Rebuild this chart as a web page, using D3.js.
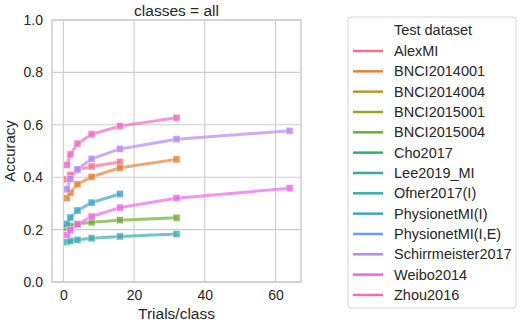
<!DOCTYPE html>
<html lang="en">
  <head>
    <meta charset="UTF-8" />
    <title>Accuracy vs trials per class</title>
    <script src="https://d3js.org/d3.v7.min.js"></script>
    <style>
      body {
        margin: 0;
        background: #fff;
      }
      svg text {
        font-family: Arial, "Liberation Sans", sans-serif;
        fill: #262626;
      }
    </style>
  </head>
  <body>
    <svg id="chart" width="524" height="327"></svg>
    <script>
      // legend order / hue order
      const datasets = [
        "AlexMI", "BNCI2014001", "BNCI2014004", "BNCI2015001", "BNCI2015004",
        "Cho2017", "Lee2019_MI", "Ofner2017(I)", "PhysionetMI(I)",
        "PhysionetMI(I,E)", "Schirrmeister2017", "Weibo2014", "Zhou2016",
      ];
      const palette = [
        "#f77189", "#e58335", "#c0952f", "#a09f31", "#6fab31", "#33b070",
        "#35ae93", "#37abb2", "#3aa5c8", "#6a9df2", "#b689f4", "#ec66ec",
        "#f569c1",
      ];
      const trials = [1, 2, 4, 8, 16, 32, 64];

      // mean accuracy per trials/class (only datasets drawn in this panel)
      const alexMI = [0.392, 0.409, 0.428, 0.441, 0.458];
      const bnci2014001 = [0.320, 0.341, 0.373, 0.401, 0.436, 0.468];
      const bnci2015004 = [0.208, 0.214, 0.221, 0.228, 0.236, 0.245];
      const ofner2017 = [0.152, 0.157, 0.161, 0.167, 0.174, 0.183];
      const physionetI = [0.222, 0.246, 0.273, 0.303, 0.336];
      const schirrmeister2017 = [0.354, 0.393, 0.430, 0.470, 0.508, 0.545, 0.577];
      const weibo2014 = [0.180, 0.198, 0.220, 0.250, 0.284, 0.320, 0.358];
      const zhou2016 = [0.447, 0.487, 0.528, 0.564, 0.595, 0.627];

      const seriesValues = {
        AlexMI: alexMI,
        BNCI2014001: bnci2014001,
        BNCI2015004: bnci2015004,
        "Ofner2017(I)": ofner2017,
        "PhysionetMI(I)": physionetI,
        Schirrmeister2017: schirrmeister2017,
        Weibo2014: weibo2014,
        Zhou2016: zhou2016,
      };

      const svg = d3.select("#chart");
      const plot = { left: 52, right: 301, top: 20, bottom: 282 };

      const x = d3.scaleLinear().domain([-3.2, 67.2]).range([plot.left, plot.right]);
      const y = d3.scaleLinear().domain([0, 1]).range([plot.bottom, plot.top]);
      const color = d3.scaleOrdinal().domain(datasets).range(palette);

      // grid
      const grid = svg.append("g");
      grid.selectAll("line.gx")
        .data([0, 20, 40, 60])
        .join("line")
        .attr("x1", (d) => x(d)).attr("x2", (d) => x(d))
        .attr("y1", plot.top).attr("y2", plot.bottom)
        .attr("stroke", "#cccccc").attr("stroke-width", 1.1);
      grid.selectAll("line.gy")
        .data([0, 0.2, 0.4, 0.6, 0.8, 1.0])
        .join("line")
        .attr("x1", plot.left).attr("x2", plot.right)
        .attr("y1", (d) => y(d)).attr("y2", (d) => y(d))
        .attr("stroke", "#cccccc").attr("stroke-width", 1.1);

      // spines
      svg.append("rect")
        .attr("x", plot.left).attr("y", plot.top)
        .attr("width", plot.right - plot.left)
        .attr("height", plot.bottom - plot.top)
        .attr("fill", "none")
        .attr("stroke", "#cccccc").attr("stroke-width", 1.5);

      // axes (labels only, seaborn whitegrid has no tick marks)
      const xAxis = svg.append("g")
        .attr("transform", `translate(0,${plot.bottom + 3})`)
        .call(d3.axisBottom(x).tickValues([0, 20, 40, 60]).tickSize(0).tickPadding(5));
      const yAxis = svg.append("g")
        .attr("transform", `translate(${plot.left - 3},0)`)
        .call(d3.axisLeft(y).tickValues([0, 0.2, 0.4, 0.6, 0.8, 1.0])
          .tickFormat(d3.format(".1f")).tickSize(0).tickPadding(6));
      [xAxis, yAxis].forEach((a) => {
        a.select(".domain").remove();
        a.selectAll("text").style("font-size", "14px").attr("fill", "#262626");
      });

      const line = d3.line().x((d) => x(d.t)).y((d) => y(d.v));

      const series = datasets
        .filter((name) => seriesValues[name])
        .map((name) => ({
          name,
          points: seriesValues[name].map((v, i) => ({ t: trials[i], v })),
        }));

      const marks = svg.append("g");
      series.forEach((s) => {
        marks.append("path")
          .datum(s.points)
          .attr("d", line)
          .attr("fill", "none")
          .attr("stroke", color(s.name))
          .attr("stroke-width", 3)
          .attr("stroke-opacity", 0.7)
          .attr("stroke-linejoin", "round");
        marks.selectAll(null)
          .data(s.points)
          .join("rect")
          .attr("x", (d) => x(d.t) - 3.5)
          .attr("y", (d) => y(d.v) - 3.5)
          .attr("width", 7).attr("height", 7)
          .attr("fill", color(s.name))
          .attr("fill-opacity", 0.8)
          .attr("stroke", "#fff").attr("stroke-opacity", 0.5)
          .attr("stroke-width", 0.8);
      });

      // titles
      svg.append("text")
        .attr("x", (plot.left + plot.right) / 2).attr("y", 16)
        .attr("text-anchor", "middle").style("font-size", "15.5px")
        .text("classes = all");
      svg.append("text")
        .attr("x", (plot.left + plot.right) / 2).attr("y", 319)
        .attr("text-anchor", "middle").style("font-size", "15.5px")
        .text("Trials/class");
      svg.append("text")
        .attr("transform", `translate(15,${(plot.top + plot.bottom) / 2}) rotate(-90)`)
        .attr("text-anchor", "middle").style("font-size", "15px")
        .text("Accuracy");

      // legend
      const legend = svg.append("g").attr("transform", "translate(348,17)");
      legend.append("rect")
        .attr("width", 168).attr("height", 291)
        .attr("rx", 3)
        .attr("fill", "#fff")
        .attr("stroke", "#d6d6d6").attr("stroke-width", 1);
      legend.append("text")
        .attr("x", 85).attr("y", 18)
        .attr("text-anchor", "middle").style("font-size", "14.5px")
        .text("Test dataset");
      const item = legend.selectAll("g.item")
        .data(datasets)
        .join("g")
        .attr("class", "item")
        .attr("transform", (d, i) => `translate(0,${34 + i * 20.33})`);
      item.append("line")
        .attr("x1", 5).attr("x2", 35)
        .attr("stroke", (d) => color(d))
        .attr("stroke-width", 2.5);
      item.append("text")
        .attr("x", 46).attr("y", 5)
        .style("font-size", "14.5px")
        .text((d) => d);
    </script>
  </body>
</html>
